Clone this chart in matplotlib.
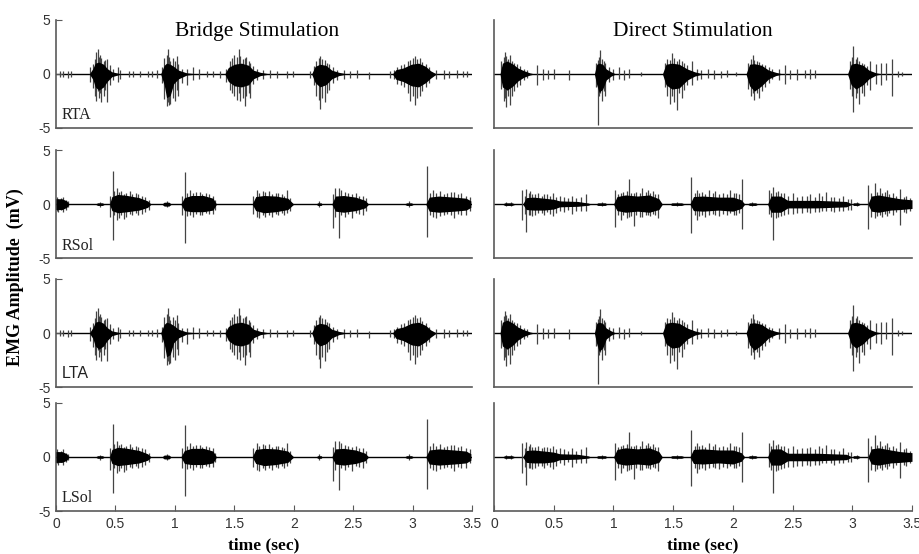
import matplotlib.pyplot as plt

# EMG traces: (time s, top mV, bottom mV)
# dense burst envelope ("core") and individual spikes for each muscle / condition

bridge_ta_core = [
    (0.28, 0, 0), (0.31, 0.5, -0.5), (0.33, 1.0, -1.2), (0.36, 1.1, -1.5), (0.40, 0.9, -1.2),
    (0.43, 0.5, -0.7), (0.47, 0.2, -0.25), (0.55, 0, 0),
    (0.88, 0, 0), (0.91, 0.8, -1.0), (0.93, 1.0, -2.2), (0.96, 0.9, -2.0), (0.99, 0.7, -0.9),
    (1.03, 0.35, -0.45), (1.10, 0.1, -0.1), (1.20, 0, 0),
    (1.42, 0, 0), (1.45, 0.6, -0.7), (1.50, 0.9, -1.1), (1.56, 1.0, -1.2), (1.62, 0.8, -1.0),
    (1.66, 0.35, -0.45), (1.72, 0.15, -0.15), (1.80, 0, 0),
    (2.15, 0, 0), (2.18, 0.7, -0.8), (2.22, 0.9, -1.2), (2.27, 0.8, -1.0), (2.32, 0.35, -0.45),
    (2.38, 0.15, -0.15), (2.45, 0, 0),
    (2.83, 0, 0), (2.86, 0.4, -0.5), (2.92, 0.55, -0.7), (2.99, 0.9, -1.1), (3.05, 1.0, -1.2),
    (3.11, 0.7, -0.8), (3.15, 0.3, -0.4), (3.20, 0, 0),
]
bridge_ta_spikes = [
    (0.03, 0.3, -0.3), (0.06, 0.25, -0.3), (0.10, 0.3, -0.35), (0.13, 0.3, -0.3),
    (0.29, 0.6, -0.7), (0.31, 0.9, -1.3), (0.33, 1.4, -2.0), (0.34, 2.0, -2.5), (0.35, 2.3, -1.6),
    (0.36, 1.6, -2.2), (0.37, 1.8, -1.8), (0.38, 1.5, -2.6), (0.40, 1.2, -2.0), (0.41, 1.3, -1.5),
    (0.43, 1.4, -2.6), (0.45, 0.8, -1.0), (0.48, 0.5, -0.6), (0.52, 0.6, -0.7), (0.54, 0.4, -0.5),
    (0.61, 0.3, -0.3), (0.65, 0.25, -0.3), (0.71, 0.3, -0.3), (0.77, 0.3, -0.3), (0.81, 0.25, -0.3),
    (0.85, 0.35, -0.4),
    (0.89, 0.6, -0.8), (0.91, 1.5, -2.3), (0.93, 1.8, -3.0), (0.94, 2.3, -2.6), (0.95, 1.6, -2.9),
    (0.96, 1.2, -2.8), (0.98, 1.5, -2.2), (1.00, 1.2, -2.5), (1.02, 1.7, -1.5), (1.03, 0.9, -2.0),
    (1.06, 0.5, -0.8), (1.10, 0.5, -1.0), (1.15, 0.6, -0.6), (1.20, 0.5, -0.5),
    (1.27, 0.3, -0.3), (1.32, 0.25, -0.3), (1.38, 0.3, -0.35),
    (1.43, 0.5, -0.7), (1.46, 1.2, -1.5), (1.48, 1.5, -1.8), (1.50, 1.8, -2.0), (1.52, 1.6, -2.4),
    (1.54, 2.3, -1.8), (1.55, 1.7, -2.5), (1.57, 1.4, -2.2), (1.59, 1.5, -3.0), (1.60, 1.6, -2.0),
    (1.62, 1.2, -1.8), (1.63, 1.0, -2.2), (1.66, 0.7, -0.9), (1.69, 0.5, -0.6), (1.74, 0.4, -0.5),
    (1.80, 0.35, -0.4), (1.86, 0.3, -0.4), (1.94, 0.3, -0.35), (1.99, 0.25, -0.3), (2.14, 0.3, -0.35),
    (2.17, 0.7, -1.0), (2.19, 1.2, -2.0), (2.21, 1.5, -2.4), (2.22, 1.7, -3.2), (2.24, 1.4, -2.2),
    (2.26, 1.3, -2.6), (2.28, 1.0, -1.8), (2.30, 0.9, -1.5), (2.33, 0.6, -0.8), (2.36, 0.4, -0.6),
    (2.42, 0.35, -0.45), (2.47, 0.3, -0.4), (2.53, 0.35, -0.35), (2.63, 0.2, -0.5),
    (2.81, 0.3, -0.4), (2.84, 0.35, -0.5), (2.87, 0.6, -0.9), (2.90, 0.8, -1.0), (2.93, 0.9, -1.2),
    (2.96, 1.2, -1.8), (2.98, 1.3, -2.5), (3.00, 1.5, -2.0), (3.02, 1.7, -2.9), (3.04, 1.4, -2.2),
    (3.06, 1.5, -2.0), (3.08, 1.1, -1.6), (3.11, 0.9, -1.2), (3.14, 0.6, -0.8), (3.20, 0.4, -0.5),
    (3.26, 0.35, -0.45), (3.31, 0.3, -0.4), (3.37, 0.35, -0.4), (3.42, 0.25, -0.3), (3.46, 0.3, -0.3),
]

bridge_sol_core = [
    (0.00, 0.5, -0.5), (0.05, 0.5, -0.5), (0.09, 0.3, -0.3), (0.11, 0, 0),
    (0.33, 0, 0), (0.35, 0.12, -0.12), (0.39, 0.12, -0.12), (0.41, 0, 0),
    (0.45, 0, 0), (0.47, 0.7, -0.6), (0.52, 0.9, -0.8), (0.60, 0.8, -0.7), (0.70, 0.6, -0.55),
    (0.77, 0.3, -0.3), (0.80, 0, 0),
    (0.89, 0, 0), (0.91, 0.18, -0.18), (0.95, 0.18, -0.18), (0.97, 0, 0),
    (1.05, 0, 0), (1.08, 0.6, -0.6), (1.14, 0.8, -0.7), (1.24, 0.8, -0.7), (1.32, 0.55, -0.55), (1.35, 0, 0),
    (1.65, 0, 0), (1.68, 0.7, -0.6), (1.75, 0.8, -0.8), (1.85, 0.75, -0.7), (1.95, 0.55, -0.5), (2.00, 0, 0),
    (2.19, 0, 0), (2.20, 0.12, -0.12), (2.23, 0.12, -0.12), (2.24, 0, 0),
    (2.32, 0, 0), (2.35, 0.75, -0.65), (2.42, 0.8, -0.75), (2.52, 0.65, -0.6), (2.60, 0.35, -0.35), (2.63, 0, 0),
    (2.93, 0, 0), (2.95, 0.12, -0.12), (2.99, 0.12, -0.12), (3.01, 0, 0),
    (3.11, 0, 0), (3.14, 0.65, -0.65), (3.22, 0.75, -0.75), (3.35, 0.65, -0.65), (3.45, 0.55, -0.55), (3.49, 0.3, -0.3),
]
bridge_sol_spikes = [
    (0.01, 0.7, -0.6), (0.02, 0.5, -0.7), (0.04, 0.6, -0.5), (0.06, 0.7, -0.7), (0.08, 0.4, -0.5),
    (0.10, 0.3, -0.3), (0.37, 0.2, -0.25),
    (0.45, 0.8, -1.2), (0.477, 3.1, -3.3), (0.49, 1.2, -1.0), (0.51, 1.5, -1.5), (0.53, 1.1, -1.3),
    (0.55, 1.2, -1.0), (0.57, 0.9, -1.4), (0.59, 1.0, -1.2), (0.62, 1.2, -0.9), (0.64, 0.9, -1.0),
    (0.67, 1.0, -0.8), (0.69, 0.9, -1.0), (0.72, 0.8, -0.9), (0.75, 0.7, -0.7), (0.78, 0.4, -0.5),
    (0.93, 0.3, -0.3),
    (1.06, 0.8, -1.0), (1.085, 3.0, -3.6), (1.10, 1.0, -1.1), (1.13, 1.3, -1.0), (1.15, 1.0, -1.2),
    (1.18, 1.1, -0.9), (1.21, 1.1, -1.0), (1.23, 0.9, -1.0), (1.26, 1.0, -0.8), (1.29, 0.9, -0.9),
    (1.32, 0.8, -0.9), (1.34, 0.4, -0.5),
    (1.66, 0.8, -0.9), (1.69, 1.3, -1.2), (1.71, 1.0, -1.3), (1.74, 1.2, -1.0), (1.76, 1.1, -1.2),
    (1.79, 1.2, -1.0), (1.82, 0.9, -1.2), (1.85, 1.0, -0.9), (1.87, 1.0, -1.0), (1.90, 0.9, -0.8),
    (1.92, 0.8, -1.0), (1.94, 1.3, -0.8), (1.97, 0.6, -0.6),
    (2.21, 0.3, -0.3),
    (2.33, 0.9, -2.2), (2.35, 1.5, -1.2), (2.38, 1.5, -3.1), (2.40, 1.3, -1.0), (2.43, 1.1, -1.2),
    (2.46, 1.0, -0.9), (2.49, 0.9, -1.3), (2.52, 1.0, -0.8), (2.55, 0.8, -0.9), (2.58, 0.8, -1.0),
    (2.61, 0.6, -0.6),
    (2.97, 0.3, -0.3),
    (3.12, 3.5, -3.0), (3.15, 1.0, -1.0), (3.17, 1.3, -1.2), (3.20, 1.0, -1.3), (3.23, 1.2, -1.1),
    (3.26, 0.9, -1.0), (3.29, 1.0, -0.9), (3.32, 1.1, -1.0), (3.35, 1.1, -1.3), (3.38, 0.9, -0.9),
    (3.41, 1.0, -1.0), (3.45, 0.8, -1.0), (3.48, 0.7, -0.6),
]

direct_ta_core = [
    (0.05, 0, 0), (0.07, 1.0, -1.2), (0.11, 1.2, -1.5), (0.16, 0.9, -1.1), (0.20, 0.55, -0.65),
    (0.25, 0.3, -0.3), (0.30, 0.1, -0.1), (0.34, 0, 0),
    (0.84, 0, 0), (0.86, 0.9, -1.0), (0.88, 1.0, -1.7), (0.91, 0.9, -1.4), (0.94, 0.45, -0.55),
    (0.98, 0.2, -0.2), (1.02, 0, 0),
    (1.41, 0, 0), (1.44, 0.9, -1.0), (1.49, 1.0, -1.4), (1.55, 0.9, -1.3), (1.62, 0.45, -0.55),
    (1.68, 0.2, -0.2), (1.75, 0, 0),
    (2.11, 0, 0), (2.14, 0.9, -1.1), (2.18, 0.95, -1.6), (2.24, 0.8, -1.1), (2.30, 0.35, -0.45),
    (2.36, 0.15, -0.15), (2.42, 0, 0),
    (2.96, 0, 0), (2.99, 0.9, -1.0), (3.03, 1.0, -1.4), (3.09, 0.8, -1.0), (3.14, 0.35, -0.45),
    (3.20, 0.1, -0.1), (3.25, 0, 0),
]
direct_ta_spikes = [
    (0.06, 1.2, -1.4), (0.08, 1.6, -2.5), (0.09, 2.0, -2.2), (0.10, 1.7, -3.1), (0.12, 1.4, -2.0),
    (0.13, 1.8, -2.9), (0.15, 1.2, -2.0), (0.17, 1.0, -1.6), (0.19, 0.9, -1.2), (0.22, 0.7, -1.0),
    (0.25, 0.5, -0.6), (0.28, 0.4, -0.4),
    (0.36, 0.8, -1.0), (0.41, 0.5, -0.6), (0.45, 0.4, -0.5), (0.50, 0.5, -0.5), (0.63, 0.4, -0.6),
    (0.85, 1.0, -1.2), (0.868, 1.3, -4.7), (0.88, 1.6, -2.0), (0.89, 2.2, -1.8), (0.90, 1.4, -2.5),
    (0.92, 1.2, -1.6), (0.93, 1.0, -2.0), (0.96, 0.6, -0.7), (1.00, 0.5, -0.6), (1.05, 0.6, -0.5),
    (1.09, 0.4, -0.6), (1.13, 0.5, -0.4), (1.23, 0.2, -0.2),
    (1.43, 1.0, -1.2), (1.45, 1.4, -2.0), (1.47, 1.3, -2.8), (1.49, 1.9, -2.0), (1.51, 1.5, -2.6),
    (1.53, 1.2, -3.3), (1.55, 1.4, -1.8), (1.57, 1.2, -2.2), (1.59, 1.0, -1.5), (1.62, 0.8, -1.0),
    (1.66, 1.2, -1.0), (1.70, 0.5, -0.6), (1.73, 0.4, -0.5), (1.79, 0.5, -0.4), (1.84, 0.4, -0.5),
    (1.90, 0.3, -0.4), (1.95, 0.4, -0.3), (2.03, 0.2, -0.2),
    (2.13, 1.0, -1.4), (2.15, 1.4, -2.0), (2.17, 1.8, -1.8), (2.18, 1.3, -2.4), (2.20, 1.2, -1.8),
    (2.22, 1.1, -2.2), (2.24, 0.9, -1.6), (2.27, 0.8, -1.2), (2.30, 0.6, -0.8), (2.33, 0.5, -0.5),
    (2.39, 0.5, -0.6), (2.44, 0.8, -0.9), (2.48, 0.4, -0.5), (2.54, 0.5, -0.6), (2.60, 0.4, -0.4),
    (2.65, 0.5, -0.5), (2.69, 0.4, -0.4),
    (2.98, 1.2, -1.4), (3.00, 1.6, -2.0), (3.01, 2.6, -3.5), (3.03, 1.4, -2.2), (3.04, 1.6, -1.8),
    (3.06, 1.2, -2.8), (3.08, 1.0, -1.8), (3.10, 0.9, -2.0), (3.12, 0.7, -1.0), (3.15, 1.2, -1.5),
    (3.20, 0.9, -0.9), (3.24, 1.0, -1.0), (3.28, 1.0, -0.6), (3.33, 1.4, -2.0), (3.38, 0.3, -0.3),
    (3.42, 0.2, -0.2),
]

direct_sol_core = [
    (0.07, 0, 0), (0.09, 0.12, -0.12), (0.15, 0.12, -0.12), (0.18, 0, 0),
    (0.24, 0, 0), (0.27, 0.6, -0.5), (0.33, 0.65, -0.55), (0.42, 0.55, -0.55), (0.50, 0.45, -0.45),
    (0.55, 0.3, -0.25), (0.70, 0.25, -0.2), (0.79, 0.1, -0.1), (0.81, 0, 0),
    (0.85, 0, 0), (0.87, 0.12, -0.12), (0.93, 0.12, -0.12), (0.95, 0, 0),
    (1.00, 0, 0), (1.03, 0.7, -0.6), (1.10, 0.85, -0.75), (1.20, 0.75, -0.65), (1.30, 0.85, -0.75),
    (1.38, 0.5, -0.5), (1.41, 0, 0),
    (1.47, 0, 0), (1.49, 0.12, -0.12), (1.57, 0.12, -0.12), (1.60, 0, 0),
    (1.64, 0, 0), (1.67, 0.7, -0.6), (1.75, 0.75, -0.65), (1.88, 0.65, -0.55), (2.00, 0.65, -0.65),
    (2.07, 0.4, -0.4), (2.10, 0, 0),
    (2.12, 0, 0), (2.14, 0.12, -0.12), (2.19, 0.12, -0.12), (2.21, 0, 0),
    (2.29, 0, 0), (2.32, 0.75, -0.75), (2.40, 0.75, -0.75), (2.46, 0.35, -0.35), (2.70, 0.35, -0.35),
    (2.95, 0.25, -0.25), (3.00, 0, 0),
    (3.01, 0.12, -0.12), (3.05, 0.12, -0.12), (3.07, 0, 0),
    (3.13, 0, 0), (3.16, 0.75, -0.65), (3.22, 0.85, -0.75), (3.32, 0.65, -0.55), (3.40, 0.5, -0.5),
    (3.50, 0.4, -0.4),
]
direct_sol_spikes = [
    (0.10, 0.2, -0.2), (0.14, 0.2, -0.15),
    (0.23, 1.3, -1.5), (0.26, 0.8, -0.9), (0.27, 1.4, -2.6), (0.29, 1.0, -1.0), (0.30, 1.2, -1.0),
    (0.32, 0.9, -1.1), (0.34, 0.9, -1.0), (0.37, 1.0, -0.8), (0.40, 0.8, -0.8), (0.42, 0.9, -1.0),
    (0.44, 0.9, -0.7), (0.47, 0.8, -0.9), (0.49, 1.0, -1.1), (0.52, 0.7, -0.8), (0.55, 0.8, -0.6),
    (0.59, 0.7, -0.7), (0.62, 0.6, -0.5), (0.65, 0.8, -0.9), (0.69, 0.6, -0.6), (0.73, 0.7, -0.6),
    (0.77, 0.9, -0.6), (0.90, 0.2, -0.2),
    (1.01, 1.3, -2.1), (1.04, 0.9, -1.0), (1.06, 1.0, -1.5), (1.08, 1.1, -1.0), (1.11, 1.2, -1.3),
    (1.13, 2.3, -1.2), (1.15, 1.0, -1.1), (1.17, 1.0, -2.0), (1.19, 1.1, -1.0), (1.22, 1.0, -1.2),
    (1.24, 1.5, -1.2), (1.27, 1.1, -1.0), (1.29, 1.3, -1.0), (1.31, 1.0, -1.1), (1.33, 1.2, -0.9),
    (1.35, 0.9, -1.0), (1.37, 0.9, -1.3), (1.53, 0.2, -0.2),
    (1.65, 2.5, -2.7), (1.68, 1.0, -1.0), (1.70, 1.3, -1.5), (1.72, 1.0, -1.1), (1.74, 1.1, -1.0),
    (1.77, 0.9, -1.2), (1.80, 1.3, -1.0), (1.83, 1.0, -0.9), (1.85, 1.2, -1.0), (1.88, 0.9, -1.1),
    (1.92, 1.0, -0.9), (1.95, 0.9, -1.0), (1.98, 1.3, -0.8), (2.01, 1.0, -1.0), (2.03, 1.0, -1.0),
    (2.05, 0.9, -0.8), (2.08, 2.3, -2.3), (2.16, 0.2, -0.2),
    (2.30, 1.3, -0.9), (2.32, 1.0, -1.2), (2.34, 1.6, -3.3), (2.36, 1.1, -1.3), (2.38, 1.2, -1.2),
    (2.40, 1.0, -1.1), (2.43, 1.0, -1.0), (2.46, 0.8, -0.9), (2.50, 1.0, -0.9), (2.54, 0.7, -0.8),
    (2.58, 0.8, -0.8), (2.62, 0.8, -0.7), (2.65, 0.9, -0.8), (2.69, 0.7, -0.7), (2.72, 1.0, -0.7),
    (2.75, 0.8, -0.6), (2.78, 1.1, -0.6), (2.82, 0.7, -0.6), (2.85, 0.7, -0.7), (2.89, 0.6, -0.6),
    (2.92, 0.8, -0.6), (2.96, 0.5, -0.5), (2.99, 0.5, -0.5), (3.04, 0.2, -0.2),
    (3.13, 1.8, -2.3), (3.16, 1.0, -1.2), (3.19, 2.0, -1.3), (3.21, 1.1, -1.1), (3.23, 1.5, -1.0),
    (3.25, 1.0, -1.2), (3.27, 1.1, -0.9), (3.29, 1.3, -1.1), (3.31, 0.9, -0.8), (3.34, 1.0, -1.0),
    (3.37, 0.8, -0.7), (3.40, 1.4, -1.9), (3.43, 0.7, -0.7), (3.45, 0.8, -0.8), (3.48, 0.6, -0.6),
]

muscles = ['RTA', 'RSol', 'LTA', 'LSol']
bridge = [(bridge_ta_core, bridge_ta_spikes), (bridge_sol_core, bridge_sol_spikes),
          (bridge_ta_core, bridge_ta_spikes), (bridge_sol_core, bridge_sol_spikes)]
direct = [(direct_ta_core, direct_ta_spikes), (direct_sol_core, direct_sol_spikes),
          (direct_ta_core, direct_ta_spikes), (direct_sol_core, direct_sol_spikes)]
time_ticks = [0, 0.5, 1, 1.5, 2, 2.5, 3, 3.5]
time_ticklabels = ['0', '0.5', '1', '1.5', '2', '2.5', '3', '3.5']

serif = 'Liberation Serif'
sans = 'Liberation Sans'
axis_grey = '#5a5a5a'

fig = plt.figure(figsize=(9.2, 5.54), dpi=100)

row_bottoms = [0.769, 0.534, 0.3014, 0.0776]
row_h = 0.195
col_left = [0.0609, 0.537]
col_w = [0.4522, 0.4543]


def draw_trace(ax, core, spikes):
    ct = [p[0] for p in core]
    ax.axhline(0, color='black', lw=1.0, zorder=1)
    ax.fill_between(ct, [p[1] for p in core], [p[2] for p in core],
                    color='black', lw=0, zorder=3)
    ax.vlines([s[0] for s in spikes], [s[2] for s in spikes], [s[1] for s in spikes],
              color='#444444', lw=0.9, zorder=2)


for r in range(4):
    for c in range(2):
        ax = fig.add_axes([col_left[c], row_bottoms[r], col_w[c], row_h])
        core, spikes = (bridge if c == 0 else direct)[r]
        draw_trace(ax, core, spikes)
        ax.set_xlim(0, 3.5)
        ax.set_ylim(-5, 5)
        for s in ['top', 'right']:
            ax.spines[s].set_visible(False)
        for s in ['left', 'bottom']:
            ax.spines[s].set_color(axis_grey)
            ax.spines[s].set_linewidth(1.2)
        ax.tick_params(direction='in', length=4, color=axis_grey, labelcolor='#333333',
                       labelsize=10, pad=4)
        if c == 0:
            ax.set_yticks([-5, 0, 5])
            ax.set_yticklabels(['-5', '0', '5'], fontfamily=sans)
            lab_font = sans if muscles[r] == 'LTA' else serif
            ax.text(0.05, -4.2, muscles[r], fontsize=11.5, fontfamily=lab_font, color='#222222')
        else:
            ax.set_yticks([])
        if r == 3:
            ax.set_xticks(time_ticks)
            ax.set_xticklabels(time_ticklabels, fontfamily=sans)
            ax.set_xlabel('time (sec)', fontsize=12.5, fontweight='bold', fontfamily=serif,
                          labelpad=5)
        else:
            ax.set_xticks([])

fig.text(0.279, 0.935, 'Bridge Stimulation', fontsize=15.5, fontfamily=serif, ha='center')
fig.text(0.753, 0.935, 'Direct Stimulation', fontsize=15.5, fontfamily=serif, ha='center')
fig.text(0.017, 0.50, 'EMG Amplitude  (mV)', fontsize=13, fontweight='bold', fontfamily=serif,
         rotation=90, va='center', ha='center')

fig.savefig('out.png', dpi=100)
